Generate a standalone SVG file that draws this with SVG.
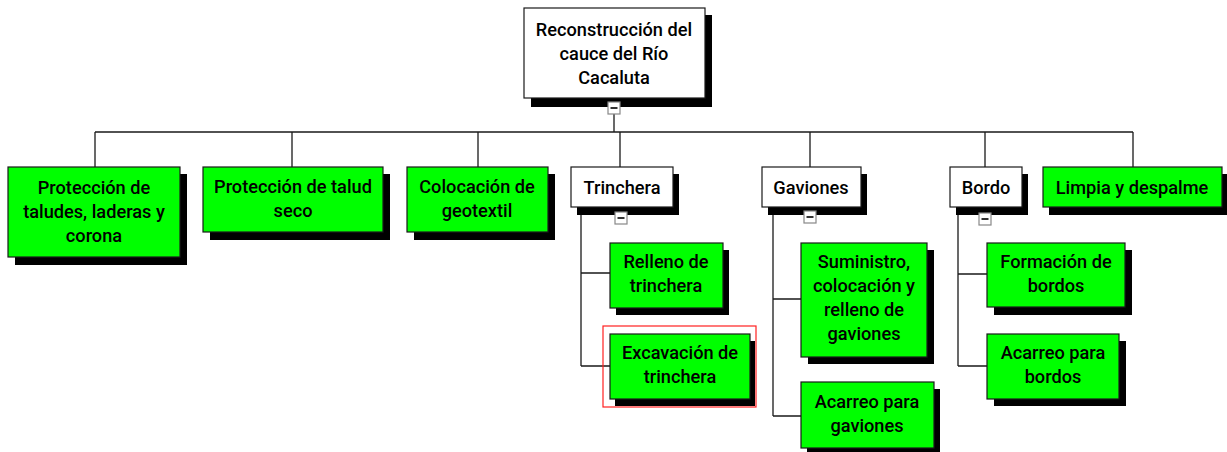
<svg xmlns="http://www.w3.org/2000/svg" width="1227" height="452" viewBox="0 0 1227 452">
<style>
.sh{fill:#000}
.g{fill:#00ff00;stroke:#1a1a1a;stroke-width:1.2}
.w{fill:#fff;stroke:#1a1a1a;stroke-width:1.2}
text{font-family:Roboto,"Liberation Sans",sans-serif;font-weight:500;font-size:18.2px;fill:#000;text-anchor:middle}
.c{fill:none;stroke:#1a1a1a;stroke-width:1.3}
.mb{fill:#fff;stroke:#888;stroke-width:1.2}
.mn{stroke:#000;stroke-width:1.6}
</style>
<rect width="1227" height="452" fill="#fff"/>
<g id="connectors">
<path class="c" d="M614 114V132M95 132H1133M95 132V167M292 132V167M478 132V167M620 132V167M810 132V167M985 132V167M1133 132V167"/>
<path class="c" d="M581 207V366M581 273H610M581 366H610"/>
<path class="c" d="M773 207V416M773 299H801M773 416H801"/>
<path class="c" d="M958 207V366M958 274H987M958 366H987"/>
</g>
<g id="root">
<rect class="sh" x="531" y="15" width="181" height="92"/>
<rect class="w" x="524" y="8" width="181" height="90"/>
<text x="614" y="36">Reconstrucción del</text>
<text x="614" y="60">cauce del Río</text>
<text x="614" y="84">Cacaluta</text>
<rect class="mb" x="608" y="102" width="12" height="12"/>
<line class="mn" x1="610.5" y1="108" x2="617.5" y2="108"/>
</g>
<g id="n1">
<rect class="sh" x="15" y="174" width="172" height="91"/>
<rect class="g" x="8" y="167" width="172" height="90"/>
<text x="94" y="194">Protección de</text>
<text x="94" y="218">taludes, laderas y</text>
<text x="94" y="242">corona</text>
</g>
<g id="n2">
<rect class="sh" x="210" y="174" width="180" height="66"/>
<rect class="g" x="203" y="167" width="180" height="65"/>
<text x="293" y="193">Protección de talud</text>
<text x="293" y="217">seco</text>
</g>
<g id="n3">
<rect class="sh" x="414" y="174" width="141" height="66"/>
<rect class="g" x="407" y="167" width="141" height="65"/>
<text x="477" y="193">Colocación de</text>
<text x="477" y="217">geotextil</text>
</g>
<g id="trinchera">
<rect class="sh" x="577" y="174" width="102" height="41"/>
<rect class="w" x="571" y="167" width="102" height="40"/>
<text x="622" y="194">Trinchera</text>
<rect class="mb" x="615" y="212" width="12" height="12"/>
<line class="mn" x1="617.5" y1="218" x2="624.5" y2="218"/>
</g>
<g id="relleno">
<rect class="sh" x="616" y="250" width="113" height="65"/>
<rect class="g" x="610" y="243" width="113" height="65"/>
<text x="666" y="268">Relleno de</text>
<text x="666" y="292">trinchera</text>
</g>
<g id="excavacion">
<rect x="603" y="326" width="153" height="81" fill="none" stroke="#ff2020" stroke-width="1.2"/>
<rect class="sh" x="615" y="341" width="140" height="65"/>
<rect class="g" x="610" y="334" width="140" height="65"/>
<text x="680" y="359">Excavación de</text>
<text x="680" y="383">trinchera</text>
</g>
<g id="gaviones">
<rect class="sh" x="768" y="174" width="99" height="41"/>
<rect class="w" x="762" y="167" width="99" height="40"/>
<text x="811" y="194">Gaviones</text>
<rect class="mb" x="804" y="211" width="12" height="12"/>
<line class="mn" x1="806.5" y1="217" x2="813.5" y2="217"/>
</g>
<g id="suministro">
<rect class="sh" x="808" y="250" width="126" height="114"/>
<rect class="g" x="801" y="243" width="126" height="114"/>
<text x="864" y="268">Suministro,</text>
<text x="864" y="292">colocación y</text>
<text x="864" y="316">relleno de</text>
<text x="864" y="340">gaviones</text>
</g>
<g id="acarreo-gaviones">
<rect class="sh" x="807" y="389" width="133" height="66"/>
<rect class="g" x="801" y="382" width="133" height="66"/>
<text x="867" y="408">Acarreo para</text>
<text x="867" y="432">gaviones</text>
</g>
<g id="bordo">
<rect class="sh" x="956" y="174" width="72" height="41"/>
<rect class="w" x="950" y="167" width="72" height="40"/>
<text x="986" y="194">Bordo</text>
<rect class="mb" x="979" y="213" width="12" height="12"/>
<line class="mn" x1="981.5" y1="219" x2="988.5" y2="219"/>
</g>
<g id="limpia">
<rect class="sh" x="1049" y="174" width="179" height="41"/>
<rect class="g" x="1043" y="167" width="179" height="40"/>
<text x="1132" y="194">Limpia y despalme</text>
</g>
<g id="formacion">
<rect class="sh" x="994" y="250" width="138" height="65"/>
<rect class="g" x="987" y="243" width="138" height="64"/>
<text x="1056" y="268">Formación de</text>
<text x="1056" y="292">bordos</text>
</g>
<g id="acarreo-bordos">
<rect class="sh" x="994" y="341" width="132" height="65"/>
<rect class="g" x="987" y="334" width="132" height="65"/>
<text x="1053" y="359">Acarreo para</text>
<text x="1053" y="383">bordos</text>
</g>
</svg>
